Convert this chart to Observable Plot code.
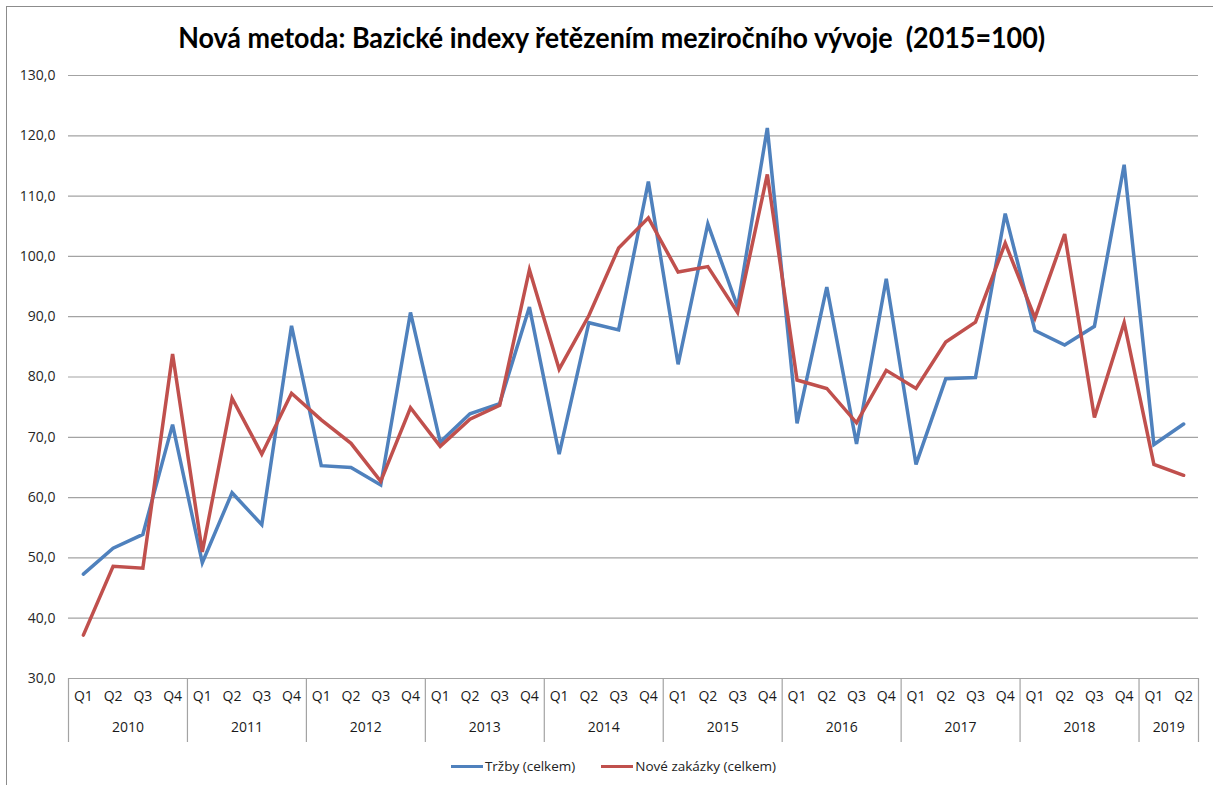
<!DOCTYPE html>
<html>
<head>
<meta charset="utf-8">
<script src="https://cdn.jsdelivr.net/npm/d3@7"></script>
<script src="https://cdn.jsdelivr.net/npm/@observablehq/plot@0.6"></script>
<style>
  html, body { margin: 0; padding: 0; background: #fff; }
  #wrap { position: relative; width: 1213px; height: 785px; overflow: hidden; }
  #frame { position: absolute; left: 6px; top: 6px; width: 1230px; height: 800px; border: 1px solid #8c8c8c; box-sizing: border-box; }
  #title { position: absolute; left: 0; top: 20px; width: 1223px; text-align: center; font-family: Lato, "Open Sans", sans-serif; font-weight: 700; font-size: 28px; color: #000; white-space: pre; }
  #title span { display: inline-block; transform-origin: center; }
  #chart { position: absolute; left: 0; top: 0; }
  #legend { position: absolute; left: 0; top: 754px; width: 1227px; text-align: center; font-family: "Open Sans", sans-serif; font-size: 13.5px; color: #222; white-space: nowrap; }
  .item { display: inline-flex; align-items: center; margin: 0 13px; }
  .sw { display: inline-block; width: 32px; height: 3.5px; margin-right: 2px; }
</style>
</head>
<body>
<div id="wrap">
  <div id="frame"></div>
  <div id="chart"></div>
  <div id="title"><span>Nová metoda: Bazické indexy řetězením meziročního vývoje  (2015=100)</span></div>
  <div id="legend"></div>
</div>
<script>
const years = ["2010","2011","2012","2013","2014","2015","2016","2017","2018","2019"];
const quartersPerYear = [4,4,4,4,4,4,4,4,4,2];
const quarterNames = ["Q1","Q2","Q3","Q4"];
const seriesNames = ["Tržby (celkem)", "Nové zakázky (celkem)"];
const seriesColors = ["#4f81bd", "#c0504d"];
const trzby = [47.3,51.6,53.9,72.1, 49.2,60.8,55.5,88.5, 65.3,65.0,62.1,90.7,
  69.2,73.9,75.6,91.6, 67.2,89.0,87.8,112.4, 82.1,105.4,91.6,121.3,
  72.3,94.9,68.9,96.3, 65.5,79.7,79.9,107.1, 87.7,85.3,88.4,115.2, 68.8,72.2];
const zakazky = [37.2,48.6,48.3,83.8, 51.0,76.5,67.2,77.3, 72.9,69.0,62.7,74.9,
  68.5,73.0,75.3,97.8, 81.3,90.2,101.4,106.4, 97.4,98.3,90.7,113.6,
  79.5,78.1,72.4,81.1, 78.1,85.8,89.1,102.2, 89.8,103.7,73.3,89.0, 65.5,63.7];
const yTicks = [30,40,50,60,70,80,90,100,110,120,130];

// build rows
const rows = [];
const qLabels = [];
const yearCenters = [];
const boundaries = [-0.5];
let idx = 0;
years.forEach((yr, yi) => {
  const n = quartersPerYear[yi];
  yearCenters.push({x: idx + (n - 1) / 2, label: yr});
  for (let q = 0; q < n; q++) {
    qLabels.push({x: idx, label: quarterNames[q]});
    rows.push({i: idx, series: seriesNames[0], value: trzby[idx]});
    rows.push({i: idx, series: seriesNames[1], value: zakazky[idx]});
    idx++;
  }
  boundaries.push(idx - 0.5);
});

const W = 1213, H = 785;
const mt = 75, mb = 107, ml = 68, mr = 15;
const plotH = H - mt - mb;
const font = "'Open Sans', sans-serif";

const chart = Plot.plot({
  width: W, height: H,
  marginTop: mt, marginBottom: mb, marginLeft: ml, marginRight: mr,
  style: {fontFamily: font, fontSize: "14px", color: "#262626", background: "transparent"},
  x: {domain: [-0.5, idx - 0.5], axis: null},
  y: {domain: [30, 130], ticks: yTicks, label: null},
  color: {domain: seriesNames, range: seriesColors},
  marks: [
    Plot.ruleY(yTicks, {stroke: "#a3a3a3", strokeWidth: 1.2}),
    Plot.axisY({ticks: yTicks, tickSize: 0, tickPadding: 13, fontSize: 14, label: null,
      tickFormat: d => d.toFixed(1).replace(".", ",")}),
    Plot.ruleX(boundaries, {x: d => d, stroke: "#a3a3a3", strokeWidth: 1.2, insetTop: plotH, insetBottom: -64}),
    Plot.text(qLabels, {x: "x", text: "label", frameAnchor: "bottom", dy: 22, fontSize: 14, fill: "#1a1a1a"}),
    Plot.text(yearCenters, {x: "x", text: "label", frameAnchor: "bottom", dy: 53, fontSize: 14, fill: "#1a1a1a"}),
    Plot.line(rows, {x: "i", y: "value", z: "series", stroke: "series", strokeWidth: 3.5, strokeLinejoin: "miter", strokeMiterlimit: 4})
  ]
});
document.getElementById("chart").appendChild(chart);

// legend
const lg = document.getElementById("legend");
seriesNames.forEach((n, k) => {
  const it = document.createElement("span");
  it.className = "item";
  const sw = document.createElement("span");
  sw.className = "sw";
  sw.style.background = seriesColors[k];
  it.appendChild(sw);
  it.appendChild(document.createTextNode(n));
  lg.appendChild(it);
});

// fit title width to reference width
const ts = document.querySelector("#title span");
const tw = ts.getBoundingClientRect().width;
ts.style.transform = `scaleX(${867 / tw})`;
</script>
</body>
</html>
